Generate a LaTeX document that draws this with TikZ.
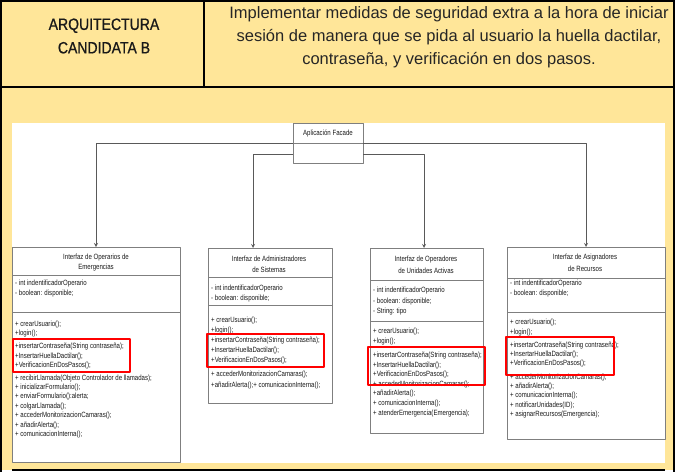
\documentclass[tikz,border=0pt]{standalone}
\usepackage{fontspec}
\setmainfont{Liberation Sans}
\newfontfamily\umlfont[FakeStretch=0.8]{Liberation Sans}
\newfontfamily\titfont[FakeStretch=0.86,FakeBold=0.8]{Liberation Sans}
\definecolor{celda}{HTML}{FFE699}
\definecolor{borde}{HTML}{7F7F7F}
\definecolor{flecha}{HTML}{595959}
\begin{document}
\begin{tikzpicture}[x=1pt, y=-1pt, line join=round, >=stealth,
    clase/.style={draw=borde, line width=0.9pt, fill=white, anchor=north west, inner sep=0pt, outer sep=0pt},
    linea/.style={draw=borde, line width=0.9pt},
    conector/.style={->, draw=flecha, line width=0.8pt},
    marcado/.style={draw=red, line width=1.6pt},
    titulo/.style={align=center, inner sep=0pt, text=black!90, font=\umlfont\fontsize{7.6}{#1}\selectfont},
    lista/.style={anchor=north west, align=left, inner sep=0pt, text=black!90, font=\umlfont\fontsize{7.6}{#1}\selectfont}]
\useasboundingbox (0,0) rectangle (676,472);
% tabla de fondo
\fill[celda] (1,1) rectangle (674,470);
\fill[white] (12,123) rectangle (665,463);
\draw[line width=1.2pt] (1,0)--(1,472) (674,0)--(674,472) (1,1)--(674,1) (1,87)--(674,87)
  (204,1)--(204,87) (12,470)--(665,470) (387,0)--(387,1) (539,0)--(539,1);
\node[font=\titfont\fontsize{16.3}{23.5}\selectfont, align=center, text=black!90] (arq) at (104,36) {ARQUITECTURA\\CANDIDATA B};
\node[font=\fontsize{16.5}{23}\selectfont, align=center, text=black!85] (desc) at (449,37)
  {Implementar medidas de seguridad extra a la hora de iniciar\\sesión de manera que se pida al usuario la huella dactilar,\\contraseña, y verificación en dos pasos.};
% fachada
\node[clase, minimum width=70pt, minimum height=40pt] (fachada) at (293,123) {};
\node[titulo=9] (fachada-nombre) at (328,133) {Aplicación Facade};
\draw[linea] (fachada.west) -- (fachada.east);
% clases
\foreach \n/\xa/\ya/\xb/\yb/\sa/\sb in {emerg/12/247/180/462/275/312, admin/208/248/332/403/277/305,
    unid/370/248/483/433/280/321, recur/507/247/665/439/278/312}{
  \node[clase, minimum width={(\xb-\xa)*1pt}, minimum height={(\yb-\ya)*1pt}] (\n) at (\xa,\ya) {};
  \draw[linea] (\xa,\sa)--(\xb,\sa) (\xa,\sb)--(\xb,\sb);
}
% conectores
\draw[conector] (fachada.west) -| (emerg.north);
\draw[conector] ([yshift=-11pt]fachada.west) -| ([xshift=-17pt]admin.north);
\draw[conector] ([yshift=-11pt]fachada.east) -| ([xshift=-2.5pt]unid.north);
\draw[conector] (fachada.east) -| (recur.north);
% textos
\node[titulo=10] (emerg-tit) at (96,263) {Interfaz de Operarios de\\Emergencias};
\node[titulo=11] (admin-tit) at (269,264.5) {Interfaz de Administradores\\de Sistemas};
\node[titulo=12] (unid-tit) at (426,265) {Interfaz de Operadores\\de Unidades Activas};
\node[titulo=12] (recur-tit) at (585,263) {Interfaz de Asignadores\\de Recursos};
\node[lista=10] (emerg-atr) at (15,280) {- int indentificadorOperario\\- boolean: disponible;};
\node[lista=10] (admin-atr) at (211,285) {- int indentificadorOperario\\- boolean: disponible;};
\node[lista=10.5] (unid-atr) at (373,287) {- int indentificadorOperario\\- boolean: disponible;\\- String: tipo};
\node[lista=10] (recur-atr) at (510,280) {- int indentificadorOperario\\- boolean: disponible;};
\node[lista=9.4] (emerg-met) at (15,320.3) {+ crearUsuario();\\+login();\\[4pt]+insertarContraseña(String contraseña);\\+InsertarHuellaDactilar();\\+VerificacionEnDosPasos();\\[3pt]+ recibirLlamada(Objeto Controlador de llamadas);\\+ inicializarFormulario();\\+ enviarFormulario():alerta;\\+ colgarLlamada();\\+ accederMonitorizacionCamaras();\\+ añadirAlerta();\\+ comunicacionInterna();};
\node[lista=10.2] (admin-met) at (211,316.3) {+ crearUsuario();\\+login();\\+insertarContraseña(String contraseña);\\+InsertarHuellaDactilar();\\+VerificacionEnDosPasos();\\[3pt]+ accederMonitorizacionCamaras();\\[1.5pt]+añadirAlerta();+ comunicacionInterna();};
\node[lista=9.6] (unid-met) at (373,328) {+ crearUsuario();\\+login();\\[4.5pt]+insertarContraseña(String contraseña);\\+InsertarHuellaDactilar();\\+VerificacionEnDosPasos();\\+ accederMonitorizacionCamaras();\\+añadirAlerta();\\+ comunicacionInterna();\\+ atenderEmergencia(Emergencia);};
\node[lista=9.3] (recur-met) at (510,319) {+ crearUsuario();\\+login();\\[4pt]+insertarContraseña(String contraseña);\\+InsertarHuellaDactilar();\\+VerificacionEnDosPasos();\\[4pt]+ accederMonitorizacionCamaras();\\+ añadirAlerta();\\+ comunicacionInterna();\\+ notificarUnidades(ID);\\+ asignarRecursos(Emergencia);};
% resaltados
\foreach \xa/\ya/\xb/\yb in {13/339/130/372, 207/334/324/367, 368/347/485/385, 506/337/614/375}
  \draw[marcado] (\xa,\ya) rectangle (\xb,\yb);
\end{tikzpicture}
\end{document}
